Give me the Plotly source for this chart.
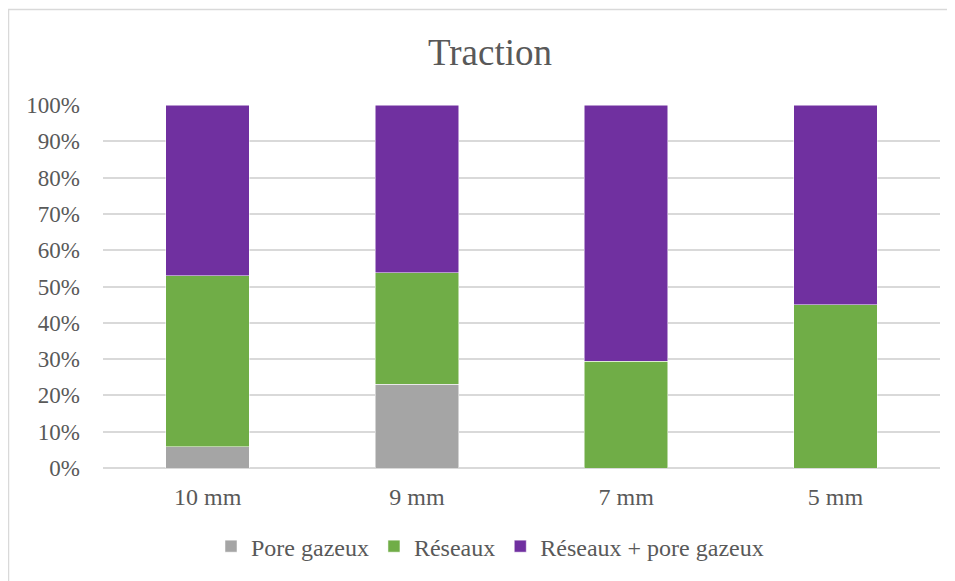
import plotly.graph_objects as go

categories = ["10 mm", "9 mm", "7 mm", "5 mm"]
pore_gazeux = [0.059, 0.231, 0.0, 0.0]
reseaux = [0.470, 0.307, 0.294, 0.450]
reseaux_pore = [0.471, 0.462, 0.706, 0.550]
y_ticks = [0, 0.1, 0.2, 0.3, 0.4, 0.5, 0.6, 0.7, 0.8, 0.9, 1.0]
y_tick_labels = ["0%", "10%", "20%", "30%", "40%", "50%", "60%", "70%", "80%", "90%", "100%"]

# page body has an 8px margin, so work in figure coordinates = page - 8
OFF = 8
W, H = 955 - OFF, 581 - OFF
L, R, T, B = 103 - OFF, 15, 105 - OFF, 111
FONT = "Liberation Serif, Times New Roman, serif"
TXT = "#595959"

fig = go.Figure()
for name, vals, col in [("Pore gazeux", pore_gazeux, "#a5a5a5"),
                        ("Réseaux", reseaux, "#70ad47"),
                        ("Réseaux + pore gazeux", reseaux_pore, "#7030a0")]:
    fig.add_trace(go.Bar(x=categories, y=vals, name=name,
                         marker=dict(color=col, line=dict(color="#ffffff", width=0.5))))

pw = W - L - R
ph = H - T - B
def px_x(x):
    return (x - OFF - L) / pw
def px_y(y):
    return (H - B - (y - OFF)) / ph

fig.update_layout(
    width=W, height=H,
    barmode="stack", bargap=0.6,
    paper_bgcolor="white", plot_bgcolor="white",
    margin=dict(l=L, r=R, t=T, b=B),
    font=dict(family=FONT, color=TXT, size=23),
    title=dict(text="Traction", x=(490 - OFF) / W, xanchor="center", y=1 - (52 - OFF) / H, yanchor="middle",
               font=dict(family=FONT, size=37, color=TXT)),
    xaxis=dict(showgrid=False, showline=False, ticks="", tickfont=dict(size=24, color=TXT),
               ticklabelstandoff=12),
    yaxis=dict(range=[0, 1], tickvals=y_ticks, ticktext=y_tick_labels, showgrid=True,
               gridcolor="#d9d9d9", gridwidth=1.5, zeroline=True, zerolinecolor="#d9d9d9",
               zerolinewidth=1.5, showline=False, ticks="", tickfont=dict(size=23, color=TXT),
               ticklabelstandoff=22),
    legend=dict(orientation="h", x=px_x(490), xanchor="center", y=px_y(549), yanchor="middle",
                font=dict(size=24, color=TXT), itemwidth=30, traceorder="normal"),
    shapes=[
        dict(type="line", xref="paper", yref="paper", x0=px_x(8), x1=px_x(960), y0=px_y(9), y1=px_y(9),
             line=dict(color="#d9d9d9", width=1.5)),
        dict(type="line", xref="paper", yref="paper", x0=px_x(8.5), x1=px_x(8.5), y0=px_y(9), y1=px_y(590),
             line=dict(color="#d9d9d9", width=1.5)),
    ],
)

fig.write_html("out.html")
